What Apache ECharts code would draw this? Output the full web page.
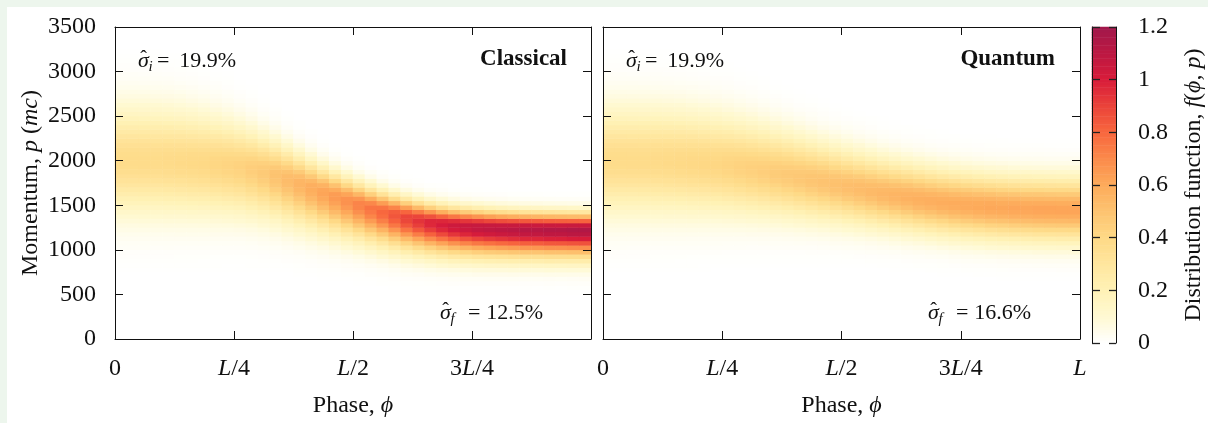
<!DOCTYPE html>
<html><head><meta charset="utf-8">
<script src="https://cdn.jsdelivr.net/npm/echarts@6/dist/echarts.min.js"></script>
<style>
html,body{margin:0;padding:0;background:#edf6ed;overflow:hidden;}
#bg{position:absolute;left:7px;top:7px;width:1201px;height:416px;background:#fff;}
#c{position:absolute;left:0;top:0;width:1208px;height:423px;}
</style></head><body><div id="bg"></div><div id="c"></div>
<script>
// ---------------- data ----------------
const phaseTicks = [0, 0.25, 0.5, 0.75, 1];
const phaseLabelsClassical = ['0', '{i|L}/4', '{i|L}/2', '3{i|L}/4', ''];
const phaseLabelsQuantum = ['0', '{i|L}/4', '{i|L}/2', '3{i|L}/4', '{i|L}'];
const momentumTicks = [0, 500, 1000, 1500, 2000, 2500, 3000, 3500];
const colorbarTicks = [0, 0.2, 0.4, 0.6, 0.8, 1, 1.2];

// 40 phase columns (bin centres at (i+0.5)/40 of L), momentum bins of 50 mc
const phaseBins = Array.from({length: 40}, (_, i) => (i + 0.5) / 40);
const momentumBins = Array.from({length: 70}, (_, j) => 25 + 50 * j);

// Classical: band centre (mc), peak f, spread above / below the centre (mc)
const classicalCenter = [2000,2000,1998,1996,1992,1987,1980,1972,1962,1948,1930,1905,1872,1835,1790,1742,1693,1645,1598,1552,1508,1466,1428,1392,1360,1332,1308,1289,1273,1261,1252,1245,1240,1236,1233,1231,1229,1228,1227,1226];
const classicalPeak = [0.38,0.38,0.38,0.38,0.385,0.39,0.395,0.40,0.41,0.42,0.43,0.45,0.47,0.50,0.53,0.56,0.59,0.62,0.65,0.68,0.72,0.76,0.80,0.85,0.90,0.94,0.98,1.01,1.04,1.06,1.08,1.09,1.10,1.11,1.12,1.12,1.13,1.13,1.14,1.14];
const classicalSpreadUp = [390,390,388,385,380,372,362,350,336,320,302,284,265,247,230,214,200,188,177,168,160,153,147,142,138,135,132,130,128,127,126,125,124,123,122,122,121,121,120,120];
const classicalSpreadDown = [390,390,390,388,386,383,379,374,368,361,353,345,336,327,318,308,298,288,278,269,260,252,245,238,232,226,221,217,213,210,208,206,204,203,202,201,201,200,200,200];

// Quantum
const quantumCenter = [2000,2000,1999,1997,1994,1990,1984,1976,1966,1954,1940,1923,1904,1883,1860,1836,1811,1785,1759,1733,1707,1682,1657,1633,1610,1588,1567,1548,1530,1514,1500,1488,1478,1470,1463,1458,1454,1451,1449,1448];
const quantumPeak = [0.38,0.38,0.38,0.38,0.385,0.39,0.395,0.40,0.405,0.41,0.42,0.43,0.44,0.45,0.46,0.47,0.48,0.49,0.50,0.51,0.52,0.53,0.54,0.55,0.56,0.57,0.58,0.585,0.59,0.595,0.60,0.605,0.61,0.61,0.615,0.615,0.62,0.62,0.62,0.62];
const quantumSpreadUp = [390,390,389,388,386,383,379,374,368,361,353,345,336,327,318,309,300,292,284,277,270,264,259,254,250,247,244,242,240,239,238,237,236,236,235,235,235,235,235,235];
const quantumSpreadDown = [390,390,389,388,386,383,379,374,368,361,353,345,336,327,318,309,300,292,284,277,270,264,259,254,250,247,244,242,240,239,238,237,236,236,235,235,235,235,235,235];

const annotations = {sigmaI: '19.9%', classicalSigmaF: '12.5%', quantumSigmaF: '16.6%'};

// ---------------- build cells ----------------
function buildCells(center, peak, up, down) {
  const out = [];
  for (let i = 0; i < center.length; i++) {
    for (let j = 0; j < momentumBins.length; j++) {
      const d = momentumBins[j] - center[i];
      const s = d > 0 ? up[i] : down[i];
      const v = peak[i] * Math.exp(-d * d / (2 * s * s));
      if (v >= 0.002) out.push([i, j, +v.toFixed(4)]);
    }
  }
  return out;
}
const classicalCells = buildCells(classicalCenter, classicalPeak, classicalSpreadUp, classicalSpreadDown);
const quantumCells = buildCells(quantumCenter, quantumPeak, quantumSpreadUp, quantumSpreadDown);
const cbBins = Array.from({length: 120}, (_, k) => (k + 0.5) / 100);
const cbCells = cbBins.map((v, k) => [0, k, v]);

// ---------------- chart ----------------
const FONT = 'Liberation Serif';
const FS = 24;
const INK = '#111';
const rich = {i: {fontStyle: 'italic', fontFamily: FONT, fontSize: FS, color: INK}};
const lineStyle = {color: INK, width: 1};

function hiddenCat(gi, data) { return {type: 'category', gridIndex: gi, data: data, show: false, boundaryGap: true}; }
function xVal(gi, pos, labels) {
  return {
    type: 'value', gridIndex: gi, position: pos, min: 0, max: 1, interval: 0.25, z: 5,
    axisLine: {show: true, onZero: false, lineStyle},
    axisTick: {show: true, inside: true, length: 8, lineStyle},
    splitLine: {show: false},
    axisLabel: labels ? {
      show: true, margin: 18, fontFamily: FONT, fontSize: FS, color: INK, rich,
      showMinLabel: true, showMaxLabel: true,
      formatter: v => { const k = phaseTicks.findIndex(t => Math.abs(t - v) < 1e-6); return k >= 0 ? labels[k] : ''; }
    } : {show: false},
    name: labels ? 'Phase, {i|ϕ}' : '', nameLocation: 'middle', nameGap: 55,
    nameTextStyle: {fontFamily: FONT, fontSize: FS, color: INK, rich}
  };
}
function yVal(gi, pos, showLabels, name) {
  return {
    type: 'value', gridIndex: gi, position: pos, min: 0, max: 3500, interval: 500, z: 5,
    axisLine: {show: true, onZero: false, lineStyle},
    axisTick: {show: true, inside: true, length: 8, lineStyle},
    splitLine: {show: false},
    axisLabel: showLabels ? {show: true, margin: 19, fontFamily: FONT, fontSize: FS, color: INK,
      formatter: v => String(v)} : {show: false},
    name: name || '', nameLocation: 'middle', nameGap: 72, nameRotate: 90,
    nameTextStyle: {fontFamily: FONT, fontSize: FS, color: INK, rich}
  };
}

function textEl(x, y, text, opts) {
  return {
    type: 'text', x: x, y: y, z: 50,
    style: Object.assign({text: text, fill: INK, font: '22px "' + FONT + '"', textAlign: 'left', textVerticalAlign: 'middle'}, opts || {})
  };
}
function sigmaLabel(x0, y, sub, value, eqX, valRight) {
  return [
    textEl(x0, y, 'σ', {font: 'italic 22px "' + FONT + '"'}),
    textEl(x0 + 5.5, y - 1, 'ˆ', {font: '20px "' + FONT + '"', textAlign: 'center'}),
    textEl(x0 + 10.5, y + 6, sub, {font: 'italic 15px "' + FONT + '"'}),
    textEl(eqX, y, '=', {}),
    textEl(valRight, y, value, {textAlign: 'right'})
  ];
}

const graphics = [].concat(
  sigmaLabel(138, 61, 'i', annotations.sigmaI, 157, 236),
  sigmaLabel(440, 313, 'f', annotations.classicalSigmaF, 468, 543),
  sigmaLabel(626, 61, 'i', annotations.sigmaI, 645, 724),
  sigmaLabel(928, 313, 'f', annotations.quantumSigmaF, 956, 1031),
  [
    textEl(567, 59, 'Classical', {font: 'bold 23px "' + FONT + '"', textAlign: 'right'}),
    textEl(1055, 59, 'Quantum', {font: 'bold 23px "' + FONT + '"', textAlign: 'right'})
  ]
);

const chart = echarts.init(document.getElementById('c'), null, {renderer: 'canvas'});
chart.setOption({
  backgroundColor: 'transparent',
  animation: false,
  grid: [
    {left: 115, top: 27, width: 476, height: 316},
    {left: 603, top: 27, width: 477, height: 316},
    {left: 1092, top: 27, width: 24, height: 316}
  ],
  xAxis: [
    hiddenCat(0, phaseBins),
    xVal(0, 'bottom', phaseLabelsClassical),
    xVal(0, 'top', null),
    hiddenCat(1, phaseBins),
    xVal(1, 'bottom', phaseLabelsQuantum),
    xVal(1, 'top', null),
    hiddenCat(2, ['cb'])
  ],
  yAxis: [
    hiddenCat(0, momentumBins),
    yVal(0, 'left', true, 'Momentum, {i|p} ({i|mc})'),
    yVal(0, 'right', false),
    hiddenCat(1, momentumBins),
    yVal(1, 'left', false),
    yVal(1, 'right', false),
    hiddenCat(2, cbBins),
    {
      type: 'value', gridIndex: 2, position: 'right', min: 0, max: 1.2, interval: 0.2, z: 5,
      axisLine: {show: true, onZero: false, lineStyle},
      axisTick: {show: true, inside: true, length: 7, lineStyle: {color: '#222', width: 1.3}},
      splitLine: {show: false},
      axisLabel: {show: true, margin: 22, fontFamily: FONT, fontSize: FS, color: INK},
      name: 'Distribution function, {i|f}({i|ϕ}, {i|p})', nameLocation: 'middle', nameGap: 66, nameRotate: 90,
      nameTextStyle: {fontFamily: FONT, fontSize: FS, color: INK, rich}
    },
    {
      type: 'value', gridIndex: 2, position: 'left', min: 0, max: 1.2, interval: 0.2, z: 5,
      axisLine: {show: true, onZero: false, lineStyle},
      axisTick: {show: true, inside: true, length: 8, lineStyle: {color: '#222', width: 1.3}},
      splitLine: {show: false}, axisLabel: {show: false}
    }
  ],
  visualMap: {
    type: 'continuous', show: false, min: 0, max: 1.2, seriesIndex: [0, 1, 2],
    inRange: {color: ['#ffffff', '#fff9d2', '#fff2b6', '#ffe69e', '#fed986', '#fdc370', '#fdab5b', '#fb8a4b', '#f8673e', '#ea433a', '#d81c3a', '#bc1842', '#a1184b']}
  },
  series: [
    {type: 'heatmap', xAxisIndex: 0, yAxisIndex: 0, data: classicalCells, progressive: 0, emphasis: {disabled: true}, itemStyle: {borderWidth: 0}},
    {type: 'heatmap', xAxisIndex: 3, yAxisIndex: 3, data: quantumCells, progressive: 0, emphasis: {disabled: true}, itemStyle: {borderWidth: 0}},
    {type: 'heatmap', xAxisIndex: 6, yAxisIndex: 6, data: cbCells, progressive: 0, emphasis: {disabled: true}, itemStyle: {borderWidth: 0}}
  ],
  graphic: graphics
});
</script></body></html>
